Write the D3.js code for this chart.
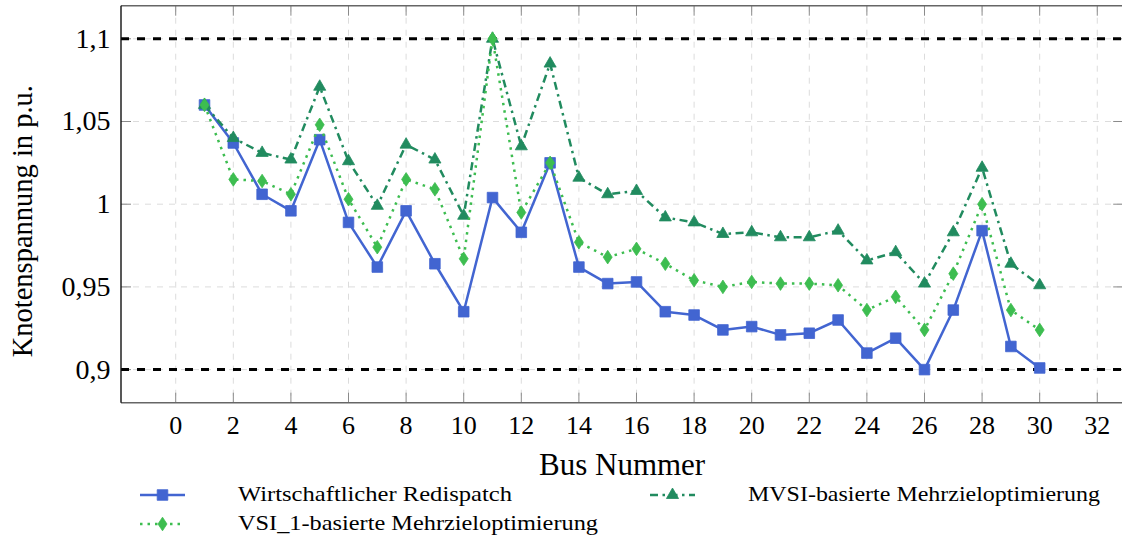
<!DOCTYPE html>
<html>
<head>
<meta charset="utf-8">
<script src="https://cdn.jsdelivr.net/npm/d3@7"></script>
<style>
  html, body { margin: 0; padding: 0; background: #fff; }
  svg { display: block; font-family: "Liberation Serif", "DejaVu Serif", serif; }
</style>
</head>
<body>
<svg id="chart" width="1122" height="538"></svg>
<script>
// ---- data ----
const busNumbers = [1,2,3,4,5,6,7,8,9,10,11,12,13,14,15,16,17,18,19,20,21,22,23,24,25,26,27,28,29,30];
const wirtschaftlich = [1.060,1.037,1.006,0.996,1.039,0.989,0.962,0.996,0.964,0.935,1.004,0.983,1.025,0.962,0.952,0.953,0.935,0.933,0.924,0.926,0.921,0.922,0.930,0.910,0.919,0.900,0.936,0.984,0.914,0.901];
const vsi1 = [1.060,1.015,1.014,1.006,1.048,1.003,0.974,1.015,1.009,0.967,1.100,0.995,1.025,0.977,0.968,0.973,0.964,0.954,0.950,0.953,0.952,0.952,0.951,0.936,0.944,0.924,0.958,1.000,0.936,0.924];
const mvsi = [1.060,1.040,1.031,1.027,1.071,1.026,0.999,1.036,1.027,0.993,1.100,1.035,1.085,1.016,1.006,1.008,0.992,0.989,0.982,0.983,0.980,0.980,0.984,0.966,0.971,0.952,0.983,1.022,0.964,0.951];
const limitLines = [0.9, 1.1];
const xTickValues = [0,2,4,6,8,10,12,14,16,18,20,22,24,26,28,30,32];
const yTickValues = [0.9,0.95,1.0,1.05,1.1];
const yTickLabels = ["0,9","0,95","1","1,05","1,1"];
const seriesNames = ["Wirtschaftlicher Redispatch","MVSI-basierte Mehrzieloptimierung","VSI_1-basierte Mehrzieloptimierung"];
const xLabel = "Bus Nummer";
const yLabel = "Knotenspannung in p.u.";

// ---- layout ----
const L = 121, R = 1123.2, T = 5.7, B = 402.7;
const svg = d3.select("#chart");
const x = d3.scaleLinear().domain([-1.9, 32.9]).range([L, R]);
const y = d3.scaleLinear().domain([0.88, 1.12]).range([B, T]);

const series = [
  {name: seriesNames[0], values: wirtschaftlich, color: "#4265d1", dash: null, marker: "square"},
  {name: seriesNames[1], values: mvsi, color: "#218b5f", dash: "8,4.5,2.5,4.5", marker: "triangle"},
  {name: seriesNames[2], values: vsi1, color: "#3dbd50", dash: "2.5,5", marker: "diamond"}
];

// grid
const grid = svg.append("g");
grid.selectAll("line.vg").data(xTickValues).join("line")
  .attr("x1", d => x(d)).attr("x2", d => x(d)).attr("y1", T).attr("y2", B)
  .attr("stroke", "#dcdcdc").attr("stroke-width", 1).attr("stroke-dasharray", "6,6");
grid.selectAll("line.hg").data(yTickValues).join("line")
  .attr("x1", L).attr("x2", R).attr("y1", d => y(d)).attr("y2", d => y(d))
  .attr("stroke", "#dcdcdc").attr("stroke-width", 1).attr("stroke-dasharray", "6,6");

// ticks (inside)
const tk = 10;
const ticks = svg.append("g").attr("stroke", "#8a8a8a").attr("stroke-width", 1);
xTickValues.forEach(v => {
  ticks.append("line").attr("x1", x(v)).attr("x2", x(v)).attr("y1", B).attr("y2", B - tk);
  ticks.append("line").attr("x1", x(v)).attr("x2", x(v)).attr("y1", T).attr("y2", T + tk);
});
yTickValues.forEach(v => {
  ticks.append("line").attr("x1", L).attr("x2", L + tk).attr("y1", y(v)).attr("y2", y(v));
  ticks.append("line").attr("x1", R).attr("x2", R - tk).attr("y1", y(v)).attr("y2", y(v));
});

// limit lines
svg.append("g").selectAll("line").data(limitLines).join("line")
  .attr("x1", L).attr("x2", R).attr("y1", d => y(d)).attr("y2", d => y(d))
  .attr("stroke", "#000").attr("stroke-width", 3).attr("stroke-dasharray", "8,8");

// markers
function markerPath(type) {
  if (type === "square") return "M-5.3,-5.3H5.3V5.3H-5.3Z";
  if (type === "diamond") return "M0,-6.8L4.5,0L0,6.8L-4.5,0Z";
  // equilateral triangle centred at circumcentre
  const r = 7;
  return `M0,${-r}L${r*0.866},${r*0.5}L${-r*0.866},${r*0.5}Z`;
}

const line = d3.line().x((d, i) => x(busNumbers[i])).y(d => y(d));
series.forEach(s => {
  const g = svg.append("g");
  g.append("path").datum(s.values).attr("d", line)
    .attr("fill", "none").attr("stroke", s.color).attr("stroke-width", 2.5)
    .attr("stroke-linejoin", "round")
    .attr("stroke-dasharray", s.dash);
  g.selectAll("path.m").data(s.values).join("path").attr("class", "m")
    .attr("transform", (d, i) => `translate(${x(busNumbers[i])},${y(d)})`)
    .attr("d", markerPath(s.marker))
    .attr("fill", s.color).attr("stroke", s.color).attr("stroke-width", 0.8);
});

// frame
svg.append("line").attr("x1", L).attr("x2", R).attr("y1", T).attr("y2", T).attr("stroke", "#666").attr("stroke-width", 1.4);
svg.append("line").attr("x1", L).attr("x2", R).attr("y1", B).attr("y2", B).attr("stroke", "#666").attr("stroke-width", 1.4);
svg.append("line").attr("x1", R).attr("x2", R).attr("y1", T).attr("y2", B).attr("stroke", "#666").attr("stroke-width", 1.4);
svg.append("line").attr("x1", L).attr("x2", L).attr("y1", T).attr("y2", B).attr("stroke", "#111").attr("stroke-width", 1.4);

// tick labels
svg.append("g").selectAll("text").data(xTickValues).join("text")
  .attr("x", d => x(d)).attr("y", 434).attr("text-anchor", "middle")
  .attr("font-size", 26).attr("fill", "#000").text(d => d);
svg.append("g").selectAll("text").data(yTickValues).join("text")
  .attr("x", 110.5).attr("y", d => y(d) + 9).attr("text-anchor", "end")
  .attr("font-size", 28).attr("fill", "#000").text((d, i) => yTickLabels[i]);

// axis labels
svg.append("text").attr("x", (L + R) / 2).attr("y", 475).attr("text-anchor", "middle")
  .attr("font-size", 31).attr("fill", "#000").text(xLabel);
svg.append("text").attr("transform", `translate(32,${(T + B) / 2 + 17}) rotate(-90)`)
  .attr("text-anchor", "middle").attr("font-size", 28.5).attr("fill", "#000").text(yLabel);

// legend
const legendPos = [
  {lx: 140, ly: 495, tx: 238, tw: 274},
  {lx: 650, ly: 495, tx: 748, tw: 352},
  {lx: 140, ly: 524, tx: 238, tw: 360}
];
series.forEach((s, i) => {
  const p = legendPos[i];
  const g = svg.append("g");
  g.append("line").attr("x1", p.lx).attr("x2", p.lx + 45).attr("y1", p.ly).attr("y2", p.ly)
    .attr("stroke", s.color).attr("stroke-width", 2.5).attr("stroke-dasharray", s.dash);
  g.append("path").attr("transform", `translate(${p.lx + 22.5},${p.ly})`).attr("d", markerPath(s.marker))
    .attr("fill", s.color).attr("stroke", s.color).attr("stroke-width", 0.8);
  g.append("text").attr("x", p.tx).attr("y", p.ly + 6).attr("font-size", 21.5).attr("fill", "#000")
    .attr("textLength", p.tw).attr("lengthAdjust", "spacingAndGlyphs").text(s.name);
});
</script>
</body>
</html>
